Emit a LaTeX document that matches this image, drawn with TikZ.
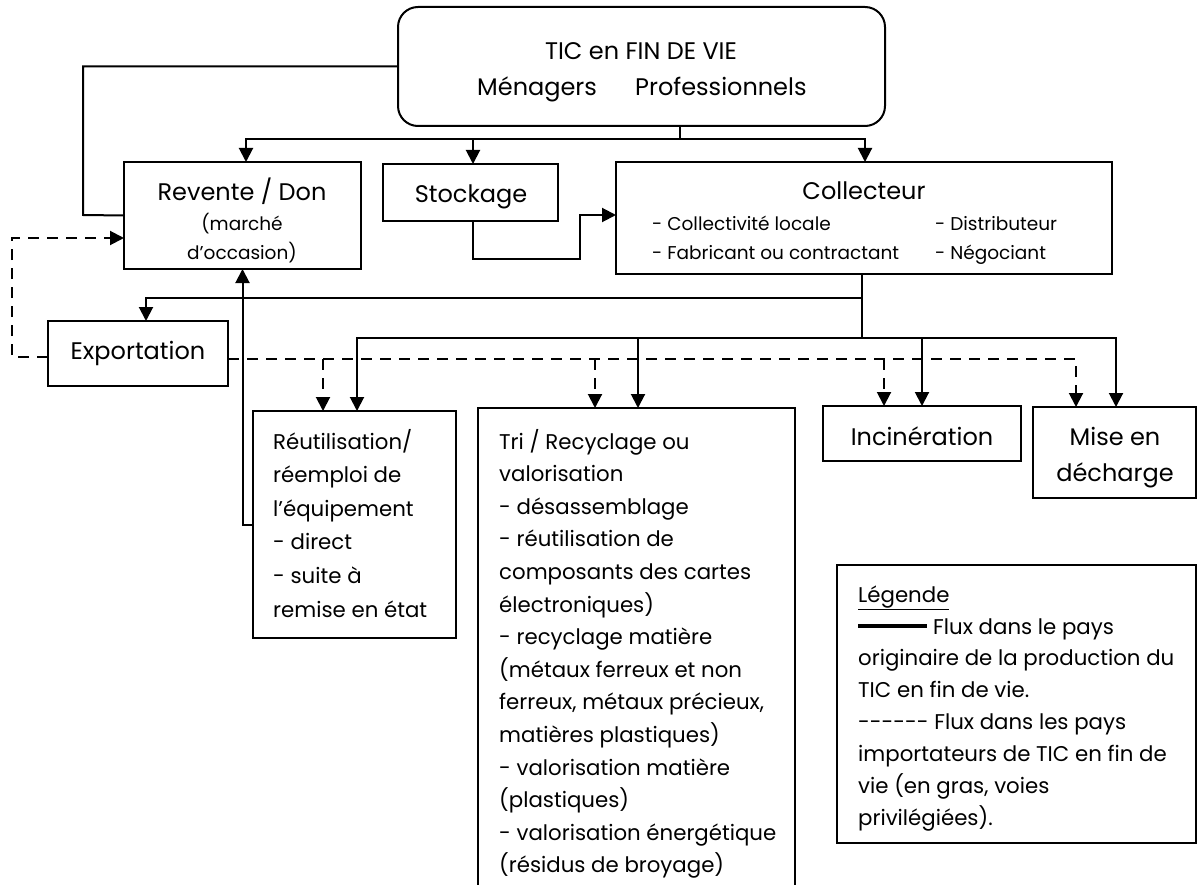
\documentclass[tikz,border=0pt]{standalone}
\usepackage{fontspec}
\setmainfont{Poppins}
\usetikzlibrary{arrows.meta}
\tikzset{
  box/.style={draw, line width=2pt, inner sep=0pt, outer sep=0pt},
  ln/.style={line width=2pt},
  arr/.style={line width=2pt, -{Triangle[width=14pt,length=14pt]}},
  darr/.style={line width=2pt, dash pattern=on 11pt off 8pt, -{Triangle[width=14pt,length=14pt]}},
  big/.style={font=\fontsize{24}{28}\selectfont, inner sep=0pt},
  mid/.style={font=\fontsize{21.3}{26}\selectfont, inner sep=0pt},
  sml/.style={font=\fontsize{18.5}{22}\selectfont, inner sep=0pt},
}
\newcommand\mkbox[5]{\node[box, minimum width={#3-#1}, minimum height={#4-#2}] (#5) at ({(#1+#3)/2},{(#2+#4)/2}) {};}
\newcommand\hy{-\kern0pt}
\begin{document}
\begin{tikzpicture}[x=1pt,y=-1pt]
\clip (0,0) rectangle (1198,885);
\fill[white] (0,0) rectangle (1198,885);
% boxes
\node[box, rounded corners=20pt, minimum width=487pt, minimum height=119pt] (top) at (641.5,66.5) {};
\mkbox{124}{162}{361}{269}{rev}
\mkbox{383}{164}{558}{221}{stock}
\mkbox{616}{162}{1112}{274}{coll}
\mkbox{48}{321}{228}{386}{exp}
\mkbox{253}{411}{456}{638}{reu}
\mkbox{478}{408}{795}{900}{tri}
\mkbox{823}{406}{1021}{461}{inc}
\mkbox{1033}{407}{1196}{498}{mise}
\mkbox{837}{565}{1196}{843}{leg}
% texts
\node[big, anchor=base] (t1) at (641,60) {TIC en FIN DE VIE};
\node[big, anchor=base west] (t2) at (477,96) {Ménagers};
\node[big, anchor=base west] (t3) at (635,96) {Professionnels};
\node[big, anchor=base] (revt) at (242,201) {Revente / Don};
\node[sml, anchor=base] (revs1) at (242,231) {(marché};
\node[sml, anchor=base] (revs2) at (242,259) {d’occasion)};
\node[big, anchor=base] (stockt) at (471,203) {Stockage};
\node[big, anchor=base] (collt) at (864,200) {Collecteur};
\node[sml, anchor=base west] (c1) at (652,231) {- Collectivité locale};
\node[sml, anchor=base west] (c2) at (652,259) {- Fabricant ou contractant};
\node[sml, anchor=base west] (c3) at (935,231) {- Distributeur};
\node[sml, anchor=base west] (c4) at (935,259) {- Négociant};
\node[big, anchor=base] (expt) at (138,359) {Exportation};
\foreach \t [count=\i from 0] in {Réutilisation/, réemploi de, l’équipement, - direct, - suite à, remise en état}
  \node[mid, anchor=base west] (reut\i) at (273,449+33.6*\i) {\t};
\foreach \t [count=\i from 0] in {Tri / Recyclage ou, valorisation, - désassemblage, - réutilisation de, composants des cartes, électroniques), - recyclage matière, {(métaux ferreux et non}, {ferreux, métaux précieux,}, matières plastiques), - valorisation matière, {(plastiques)}, - valorisation énergétique, {(résidus de broyage)}}
  \node[mid, anchor=base west] (trit\i) at (499,449+32.6*\i) {\t};
\node[big, anchor=base] (inct) at (922,445) {Incinération};
\node[big, anchor=base] (miset1) at (1115,445) {Mise en};
\node[big, anchor=base] (miset2) at (1115,481) {décharge};
\node[mid, anchor=base west] (leg0) at (858,602) {\underline{Légende}};
\draw[line width=3.5pt] (858,626) -- (927,626);
\node[mid, anchor=base west] (leg1) at (933,634) {Flux dans le pays};
\foreach \t [count=\i from 2] in {originaire de la production du, TIC en fin de vie., {\hy\hy\hy\hy\hy\hy{} Flux dans les pays}, importateurs de TIC en fin de, {vie (en gras, voies}, privilégiées).}
  \node[mid, anchor=base west] (leg\i) at (858,602+31.9*\i) {\t};
% connectors from top
\coordinate (bj) at (680,139);
\draw[ln] (top.south -| bj) -- (bj);
\draw[arr] (bj) -| ([xshift=3.5pt]rev.north);
\draw[arr] (bj) -| ([xshift=1pt]coll.north);
\coordinate (sA) at ([xshift=2.5pt]stock.north);
\draw[arr] (sA |- bj) -- (sA);
\draw[ln] (top.west) -| (83,215) -- (rev.west);
% stockage -> collecteur
\coordinate (sB) at ([xshift=2.5pt]stock.south);
\draw[arr] (sB) |- (580,259) |- (coll.west |- 0,215);
% collecteur bus
\coordinate (cA) at ([xshift=-2pt]coll.south);
\coordinate (cj) at (cA |- 0,338);
\draw[ln] (cA) -- (cj);
\draw[arr] (cA |- 0,298) -| ([xshift=8pt]exp.north);
\coordinate (rA) at ([xshift=2.5pt]reu.north);
\coordinate (tA) at ([xshift=1.5pt]tri.north);
\coordinate (iA) at (inc.north);
\coordinate (mA) at ([xshift=1.5pt]mise.north);
\draw[arr] (cj) -| (rA);
\draw[arr] (cj) -| (mA);
\draw[arr] (tA |- cj) -- (tA);
\draw[arr] (iA |- cj) -- (iA);
% dashed flows
\coordinate (rD) at ([xshift=-31.5pt]reu.north);
\coordinate (tD) at ([xshift=-41.5pt]tri.north);
\coordinate (iD) at ([xshift=-38pt]inc.north);
\coordinate (mD) at ([xshift=-38.5pt]mise.north);
\draw[darr] (exp.east |- 0,359) -| (mD);
\draw[darr] (rD |- 0,359) -- (rD);
\draw[darr] (tD |- 0,359) -- (tD);
\draw[darr] (iD |- 0,359) -- (iD);
\draw[darr] (exp.west |- 0,357) -- (12,357) |- (rev.west |- 0,238);
% reuse back to revente
\draw[arr] (reu.west) -| (rev.south);
\end{tikzpicture}
\end{document}
